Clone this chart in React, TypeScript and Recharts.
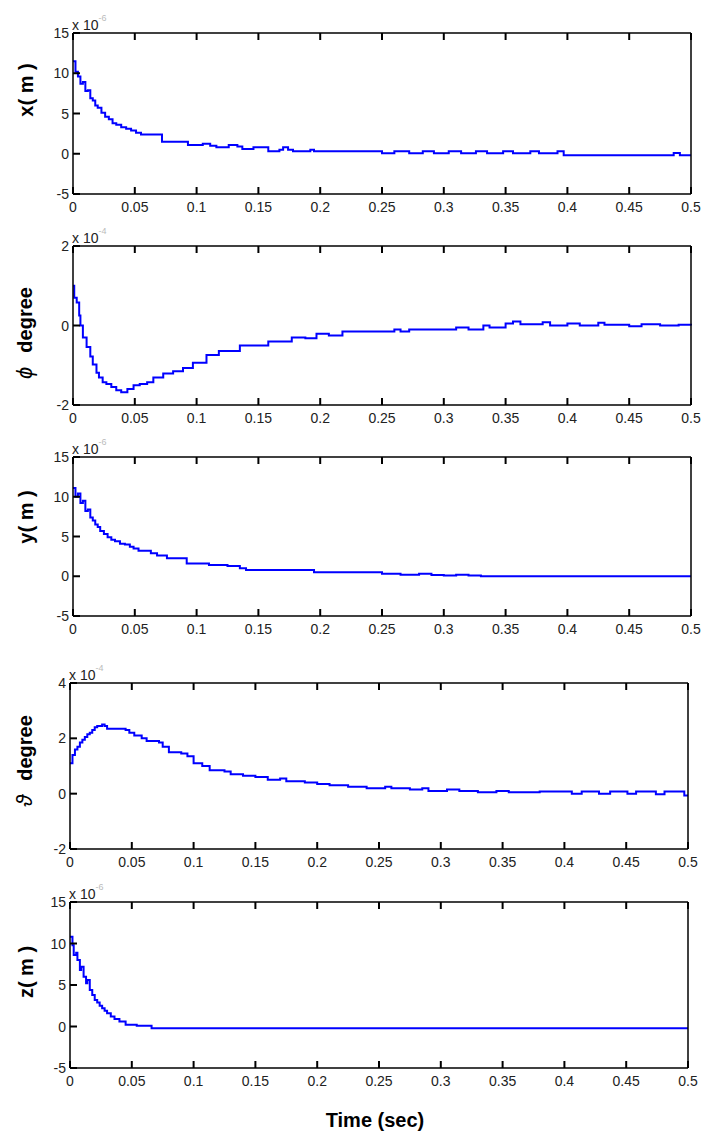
import React from 'react'
import { LineChart, Line, XAxis, YAxis } from 'recharts'

// shared time ticks (sec)
const timeTicks = [0, 0.05, 0.1, 0.15, 0.2, 0.25, 0.3, 0.35, 0.4, 0.45, 0.5]

// x (m), x 10^-6
const xTime = [
  0, 0.002, 0.004, 0.006, 0.008, 0.01, 0.012, 0.014, 0.016, 0.018,
  0.02, 0.023, 0.026, 0.029, 0.032, 0.035, 0.039, 0.043, 0.047, 0.051,
  0.055, 0.072, 0.093, 0.105, 0.111, 0.116, 0.126, 0.133, 0.137, 0.146,
  0.158, 0.167, 0.17, 0.174, 0.178, 0.192, 0.195, 0.25, 0.26, 0.272,
  0.283, 0.292, 0.304, 0.314, 0.326, 0.335, 0.348, 0.356, 0.37, 0.377,
  0.392, 0.397, 0.486, 0.491, 0.5,
]
const xValues = [
  11.5, 10.2, 9.6, 8.7, 8.9, 7.8, 7.9, 6.9, 6.6, 6.0,
  5.7, 5.1, 4.6, 4.3, 3.8, 3.6, 3.3, 3.1, 2.9, 2.6,
  2.4, 1.5, 1.1, 1.25, 1.0, 0.8, 1.1, 0.9, 0.6, 0.8,
  0.3, 0.5, 0.8, 0.5, 0.3, 0.5, 0.3, 0.05, 0.3, 0.05,
  0.3, 0.05, 0.3, 0.05, 0.3, 0.05, 0.3, 0.05, 0.3, 0.05,
  0.3, -0.2, 0.08, -0.2, -0.2,
]

// phi (degree), x 10^-4
const phiTime = [
  0, 0.001, 0.003, 0.005, 0.006, 0.008, 0.011, 0.014, 0.016, 0.019,
  0.021, 0.024, 0.027, 0.031, 0.035, 0.039, 0.044, 0.049, 0.054, 0.06,
  0.065, 0.073, 0.081, 0.089, 0.097, 0.108, 0.118, 0.135, 0.158, 0.177,
  0.188, 0.197, 0.207, 0.218, 0.26, 0.265, 0.272, 0.31, 0.32, 0.332,
  0.337, 0.35, 0.356, 0.362, 0.38, 0.386, 0.4, 0.41, 0.425, 0.43,
  0.45, 0.46, 0.475, 0.49, 0.5,
]
const phiValues = [
  1.0, 0.7, 0.58, 0.25, 0, -0.3, -0.54, -0.78, -0.98, -1.19,
  -1.31, -1.43, -1.47, -1.55, -1.63, -1.68, -1.6, -1.5, -1.47, -1.43,
  -1.31, -1.21, -1.15, -1.07, -0.94, -0.74, -0.64, -0.5, -0.4, -0.3,
  -0.32, -0.21, -0.25, -0.15, -0.1, -0.15, -0.1, -0.05, -0.1, 0,
  -0.05, 0.05, 0.1, 0.03, 0.08, 0.0, 0.05, 0.0, 0.07, 0.02,
  -0.02, 0.03, 0.0, 0.02, 0,
]

// y (m), x 10^-6
const yTime = [
  0, 0.002, 0.004, 0.006, 0.008, 0.01, 0.012, 0.014, 0.016, 0.018,
  0.02, 0.022, 0.025, 0.028, 0.031, 0.034, 0.038, 0.042, 0.046, 0.049,
  0.053, 0.063, 0.068, 0.076, 0.092, 0.11, 0.125, 0.135, 0.14, 0.195,
  0.25, 0.265, 0.28, 0.29, 0.3, 0.31, 0.32, 0.33, 0.5,
]
const yValues = [
  11.1, 10.0, 10.4, 9.2, 9.5, 8.2, 8.4, 7.4, 7.0, 6.5,
  6.2, 5.7, 5.3, 4.9, 4.6, 4.4, 4.1, 4.0, 3.7, 3.5,
  3.2, 2.9, 2.6, 2.25, 1.6, 1.4, 1.3, 1.0, 0.8, 0.5,
  0.3, 0.2, 0.3, 0.15, 0.1, 0.2, 0.1, 0.0, 0.0,
]

// theta (degree), x 10^-4
const thetaTime = [
  0, 0.002, 0.004, 0.006, 0.008, 0.01, 0.012, 0.014, 0.016, 0.018,
  0.02, 0.022, 0.026, 0.028, 0.03, 0.045, 0.048, 0.052, 0.058, 0.062,
  0.072, 0.075, 0.08, 0.09, 0.095, 0.1, 0.107, 0.113, 0.125, 0.13,
  0.14, 0.15, 0.16, 0.17, 0.175, 0.19, 0.2, 0.21, 0.225, 0.24,
  0.255, 0.26, 0.275, 0.285, 0.29, 0.305, 0.315, 0.33, 0.345, 0.355,
  0.38, 0.406, 0.414, 0.428, 0.437, 0.451, 0.458, 0.474, 0.481, 0.497,
  0.5,
]
const thetaValues = [
  1.1, 1.4, 1.6, 1.7, 1.85, 1.95, 2.05, 2.15, 2.2, 2.3,
  2.4, 2.45, 2.5, 2.45, 2.35, 2.3, 2.2, 2.1, 2.0, 1.9,
  1.85, 1.7, 1.5, 1.45, 1.35, 1.1, 1.0, 0.85, 0.8, 0.7,
  0.65, 0.6, 0.5, 0.55, 0.45, 0.4, 0.35, 0.3, 0.25, 0.2,
  0.25, 0.2, 0.15, 0.2, 0.1, 0.15, 0.1, 0.05, 0.1, 0.05,
  0.08, 0.0, 0.08, 0.0, 0.08, 0.0, 0.08, -0.02, 0.08, -0.07,
  -0.07,
]

// z (m), x 10^-6
const zTime = [
  0, 0.002, 0.003, 0.005, 0.006, 0.008, 0.009, 0.011, 0.013, 0.014,
  0.016, 0.018, 0.02, 0.022, 0.024, 0.026, 0.028, 0.03, 0.033, 0.036,
  0.04, 0.045, 0.054, 0.066, 0.5,
]
const zValues = [
  10.8, 9.8, 8.6, 8.9, 8.0, 6.8, 7.2, 6.0, 5.2, 5.6,
  4.4, 3.8, 3.2, 2.9, 2.5, 2.2, 1.9, 1.6, 1.2, 0.9,
  0.6, 0.2, 0.1, -0.2, -0.2,
]

const metreTicks = [-5, 0, 5, 10, 15]
const phiTicks = [-2, 0, 2]
const thetaTicks = [-2, 0, 2, 4]

const FONT = '"Liberation Sans", Arial, sans-serif'
const W = 713
const TICK_LEN = 7

const axisStyle = { stroke: '#000', strokeWidth: 1.5 }
const markStyle = { stroke: '#000', strokeWidth: 2 }
const labelStyle = { fontSize: 14, fill: '#222', fontFamily: FONT }

// MATLAB-style inward ticks: the mark points into the plot, the label sits outside
const BottomTick = (p: any) => (
  <g>
    <line x1={p.x} y1={p.y} x2={p.x} y2={p.y - TICK_LEN} {...markStyle} />
    <text x={p.x} y={p.y + 18} textAnchor="middle" {...labelStyle}>
      {p.payload.value}
    </text>
  </g>
)
const TopTick = (p: any) => <line x1={p.x} y1={p.y} x2={p.x} y2={p.y + TICK_LEN} {...markStyle} />
const LeftTick = (p: any) => (
  <g>
    <line x1={p.x} y1={p.y} x2={p.x + TICK_LEN} y2={p.y} {...markStyle} />
    <text x={p.x - 4} y={p.y + 5} textAnchor="end" {...labelStyle}>
      {p.payload.value}
    </text>
  </g>
)
const RightTick = (p: any) => <line x1={p.x} y1={p.y} x2={p.x - TICK_LEN} y2={p.y} {...markStyle} />

type PanelProps = {
  time: number[]
  values: number[]
  yTicks: number[]
  top: number
  bottom: number
  left: number
  right: number
  exp: string
}

const Panel = ({ time, values, yTicks, top, bottom, left, right, exp }: PanelProps) => {
  const data = time.map((t, i) => ({ t, v: values[i] }))
  const padTop = 10
  const axisH = 30
  const yDomain = [yTicks[0], yTicks[yTicks.length - 1]]
  return (
    <>
      <div
        style={{
          position: 'absolute',
          left: left - 1,
          top: top - 20,
          fontFamily: FONT,
          fontSize: 14,
          color: '#222',
          whiteSpace: 'nowrap',
        }}
      >
        x 10
        <span style={{ fontSize: 9, color: '#bbb', verticalAlign: 9 }}>{exp}</span>
      </div>
      <div style={{ position: 'absolute', left: 0, top: top - padTop }}>
        <LineChart
          width={W}
          height={bottom - top + padTop + axisH}
          data={data}
          margin={{ top: padTop - 1, right: W - right - 1, bottom: 0, left: 0 }}
        >
          <XAxis
            xAxisId="b"
            dataKey="t"
            type="number"
            domain={[0, 0.5]}
            ticks={timeTicks}
            interval={0}
            height={axisH}
            tickSize={0}
            tickMargin={0}
            axisLine={axisStyle}
            tickLine={false}
            tick={BottomTick}
          />
          <XAxis
            xAxisId="t"
            orientation="top"
            dataKey="t"
            type="number"
            domain={[0, 0.5]}
            ticks={timeTicks}
            interval={0}
            height={1}
            tickSize={0}
            tickMargin={0}
            axisLine={axisStyle}
            tickLine={false}
            tick={TopTick}
          />
          <YAxis
            yAxisId="l"
            type="number"
            domain={yDomain}
            ticks={yTicks}
            interval={0}
            width={left}
            tickSize={0}
            tickMargin={0}
            axisLine={axisStyle}
            tickLine={false}
            tick={LeftTick}
          />
          <YAxis
            yAxisId="r"
            orientation="right"
            type="number"
            domain={yDomain}
            ticks={yTicks}
            interval={0}
            width={1}
            tickSize={0}
            tickMargin={0}
            axisLine={axisStyle}
            tickLine={false}
            tick={RightTick}
          />
          <Line
            xAxisId="b"
            yAxisId="l"
            type="stepAfter"
            dataKey="v"
            stroke="#0000ff"
            strokeWidth={2}
            dot={false}
            isAnimationActive={false}
          />
        </LineChart>
      </div>
    </>
  )
}

const YLabel = ({ cx, cy, children }: { cx: number; cy: number; children: React.ReactNode }) => (
  <div
    style={{
      position: 'absolute',
      left: cx,
      top: cy,
      transform: 'translate(-50%, -50%) rotate(-90deg)',
      whiteSpace: 'nowrap',
      fontFamily: FONT,
      fontWeight: 'bold',
      fontSize: 20,
      color: '#000',
      lineHeight: 1,
    }}
  >
    {children}
  </div>
)

const Greek = ({ ch }: { ch: string }) => (
  <span style={{ fontWeight: 'normal', fontStyle: 'italic', fontSize: 22, marginRight: 14 }}>{ch}</span>
)

const App = () => {
  return (
    <div
      style={{
        position: 'absolute',
        left: 0,
        top: 0,
        width: W,
        height: 1133,
        background: '#fff',
        overflow: 'hidden',
      }}
    >
      <Panel time={xTime} values={xValues} yTicks={metreTicks} top={33} bottom={194} left={73} right={691} exp="-6" />
      <Panel time={phiTime} values={phiValues} yTicks={phiTicks} top={246} bottom={405} left={73} right={691} exp="-4" />
      <Panel time={yTime} values={yValues} yTicks={metreTicks} top={457} bottom={616} left={73} right={691} exp="-6" />
      <Panel time={thetaTime} values={thetaValues} yTicks={thetaTicks} top={683} bottom={849} left={70} right={688} exp="-4" />
      <Panel time={zTime} values={zValues} yTicks={metreTicks} top={902} bottom={1068} left={70} right={688} exp="-6" />

      <YLabel cx={26} cy={90}>x( m )</YLabel>
      <YLabel cx={25} cy={333}>
        <Greek ch="ϕ" />degree
      </YLabel>
      <YLabel cx={26} cy={517}>y( m )</YLabel>
      <YLabel cx={25} cy={761}>
        <Greek ch="ϑ" />degree
      </YLabel>
      <YLabel cx={26} cy={972}>z( m )</YLabel>

      <div
        style={{
          position: 'absolute',
          left: 375,
          top: 1120,
          transform: 'translate(-50%, -50%)',
          fontFamily: FONT,
          fontWeight: 'bold',
          fontSize: 20,
          whiteSpace: 'nowrap',
        }}
      >
        Time (sec)
      </div>
    </div>
  )
}

export default App
